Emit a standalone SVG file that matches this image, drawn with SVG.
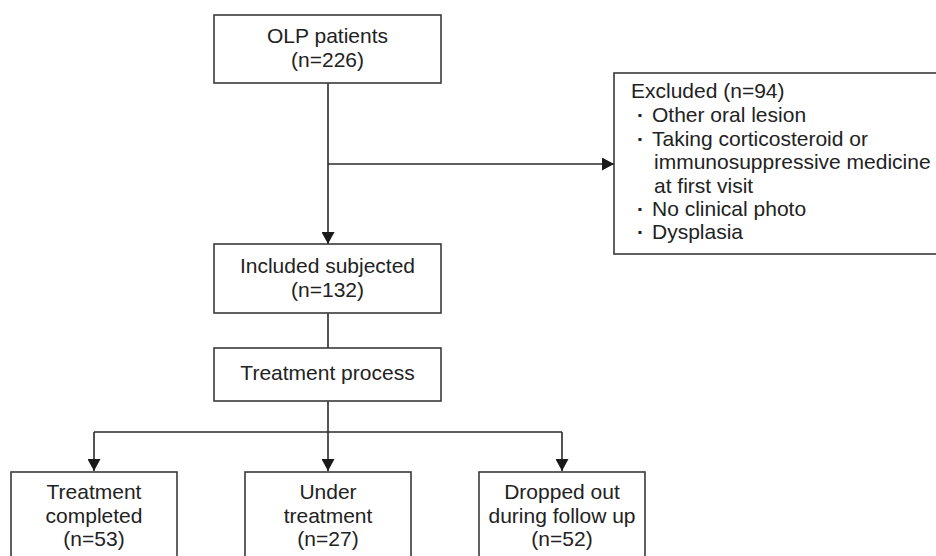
<svg xmlns="http://www.w3.org/2000/svg" width="936" height="556" viewBox="0 0 936 556">
<style>
  .box { fill: #fff; stroke: #3a3a3a; stroke-width: 1.6; }
  .t { font-family: "Liberation Sans", Arial, sans-serif; font-size: 21px; fill: #222; }
  .c { text-anchor: middle; }
  .b { font-weight: bold; }
  .ln { fill: none; stroke: #2a2a2a; stroke-width: 1.6; }
</style>
<defs>
  <marker id="ah" viewBox="0 0 12 13" refX="12" refY="6.5" markerWidth="12" markerHeight="13" markerUnits="userSpaceOnUse" orient="auto">
    <path d="M0,0 L12,6.5 L0,13 Z" fill="#1a1a1a"/>
  </marker>
</defs>
<rect width="936" height="556" fill="#fff"/>
<g id="connectors">
  <line class="ln" x1="328" y1="83" x2="328" y2="244" marker-end="url(#ah)"/>
  <line class="ln" x1="328" y1="164" x2="614" y2="164" marker-end="url(#ah)"/>
  <line class="ln" x1="328" y1="313" x2="328" y2="348"/>
  <line class="ln" x1="328" y1="401" x2="328" y2="471" marker-end="url(#ah)"/>
  <line class="ln" x1="94" y1="432" x2="562" y2="432"/>
  <line class="ln" x1="94" y1="432" x2="94" y2="471" marker-end="url(#ah)"/>
  <line class="ln" x1="562" y1="432" x2="562" y2="471" marker-end="url(#ah)"/>
</g>
<g id="olp">
  <rect class="box" x="214" y="15" width="227" height="68"/>
  <text class="t c" x="327.5" y="43">OLP patients</text>
  <text class="t c" x="327.5" y="67">(n=226)</text>
</g>
<g id="excluded">
  <rect class="box" x="614" y="73" width="330" height="181"/>
  <text class="t" x="631" y="98">Excluded (n=94)</text>
  <text class="t b" x="637" y="122">·</text>
  <text class="t" x="652" y="122">Other oral lesion</text>
  <text class="t b" x="637" y="146">·</text>
  <text class="t" x="652" y="146">Taking corticosteroid or</text>
  <text class="t" x="654" y="169">immunosuppressive medicine</text>
  <text class="t" x="654" y="193">at first visit</text>
  <text class="t b" x="637" y="216">·</text>
  <text class="t" x="652" y="216">No clinical photo</text>
  <text class="t b" x="637" y="239">·</text>
  <text class="t" x="652" y="239">Dysplasia</text>
</g>
<g id="included">
  <rect class="box" x="214" y="244" width="227" height="69"/>
  <text class="t c" x="327.5" y="273">Included subjected</text>
  <text class="t c" x="327.5" y="297">(n=132)</text>
</g>
<g id="process">
  <rect class="box" x="214" y="348" width="227" height="53"/>
  <text class="t c" x="327.5" y="380">Treatment process</text>
</g>
<g id="completed">
  <rect class="box" x="11" y="472" width="166" height="100"/>
  <text class="t c" x="94" y="499">Treatment</text>
  <text class="t c" x="94" y="522.5">completed</text>
  <text class="t c" x="94" y="546">(n=53)</text>
</g>
<g id="under">
  <rect class="box" x="245" y="472" width="166" height="100"/>
  <text class="t c" x="328" y="499">Under</text>
  <text class="t c" x="328" y="522.5">treatment</text>
  <text class="t c" x="328" y="546">(n=27)</text>
</g>
<g id="dropped">
  <rect class="box" x="479" y="472" width="166" height="100"/>
  <text class="t c" x="562" y="499">Dropped out</text>
  <text class="t c" x="562" y="522.5">during follow up</text>
  <text class="t c" x="562" y="546">(n=52)</text>
</g>
</svg>
